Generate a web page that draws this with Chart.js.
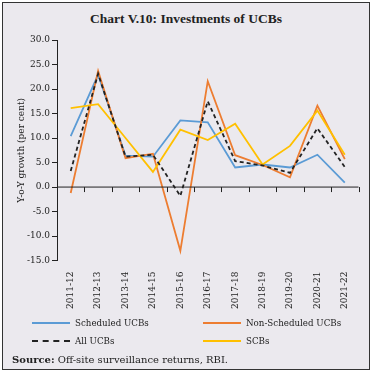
<!DOCTYPE html>
<html>
<head>
<meta charset="utf-8">
<script src="https://cdn.jsdelivr.net/npm/chart.js@4"></script>
<style>
    body { margin: 0; background: #fff; font-family: "DejaVu Serif", serif; }
    #frame { position: absolute; left: 2px; top: 2px; width: 366px; height: 366px; border: 1.5px solid #333; background: #ebe9ee; }
    #title { position: absolute; left: 3px; top: 11px; width: 366px; text-align: center; font-family: "Liberation Serif", serif; font-weight: bold; font-size: 13.5px; color: #222; }
    #wrap { position: absolute; left: 3px; top: 3px; width: 366px; height: 315px; }
    #legend .item { position: absolute; font-size: 8.7px; color: #222; white-space: nowrap; line-height: 12px; }
    #legend .swatch { display: inline-block; width: 38px; height: 0; vertical-align: middle; margin-right: 5px; }
    #source { position: absolute; left: 12px; top: 354px; font-size: 10px; color: #222; }
</style>
</head>
<body>
<div id="frame"></div>
<div id="title">Chart V.10: Investments of UCBs</div>
<div id="wrap"><canvas id="chart"></canvas></div>
<div id="legend"></div>
<div id="source"><b>Source:</b> Off-site surveillance returns, RBI.</div>
<script>
// categories and series (per cent)
const years = ['2011-12', '2012-13', '2013-14', '2014-15', '2015-16', '2016-17', '2017-18', '2018-19', '2019-20', '2020-21', '2021-22'];
const scheduledUCBs = [10.4, 22.9, 6.4, 6.2, 13.6, 13.2, 4.0, 4.6, 4.0, 6.6, 0.9];
const nonScheduledUCBs = [-1.2, 23.7, 5.9, 6.8, -13.0, 21.6, 6.5, 4.5, 2.0, 16.6, 5.7];
const allUCBs = [3.3, 23.1, 6.2, 6.6, -1.8, 17.5, 5.3, 4.4, 2.9, 12.0, 4.1];
const scbs = [16.1, 16.9, 10.0, 3.1, 11.7, 9.6, 12.9, 4.6, 8.4, 15.6, 6.6];
const yTicks = [-15, -10, -5, 0, 5, 10, 15, 20, 25, 30];

const axisColor = '#222';
const font = { family: 'DejaVu Serif', size: 9 };

// small tick marks hanging under the zero line, at category boundaries
const zeroTicks = {
    id: 'zeroTicks',
    afterDraw(chart) {
        const x = chart.scales.x, y = chart.scales.y;
        const y0 = y.getPixelForValue(0);
        const step = (x.right - x.left) / years.length;
        const ctx = chart.ctx;
        ctx.save();
        ctx.strokeStyle = axisColor;
        ctx.lineWidth = 1;
        ctx.beginPath();
        ctx.moveTo(x.left, y0);
        ctx.lineTo(x.right, y0);
        for (let i = 1; i <= years.length; i++) {
            const px = Math.round(x.left + step * i) + 0.5;
            ctx.moveTo(px, y0);
            ctx.lineTo(px, y0 + 5);
        }
        ctx.stroke();
        ctx.restore();
    }
};

const chart = new Chart(document.getElementById('chart'), {
    type: 'line',
    data: {
        labels: years,
        datasets: [
            { label: 'Scheduled UCBs', data: scheduledUCBs, borderColor: '#5b9bd5', order: 3 },
            { label: 'Non-Scheduled UCBs', data: nonScheduledUCBs, borderColor: '#ed7d31', order: 2 },
            { label: 'All UCBs', data: allUCBs, borderColor: '#222', borderDash: [4, 3], order: 0 },
            { label: 'SCBs', data: scbs, borderColor: '#ffc000', order: 1 }
        ]
    },
    options: {
        responsive: true,
        maintainAspectRatio: false,
        animation: false,
        layout: { padding: { top: 37, right: 10.5, left: 0, bottom: 6 } },
        elements: {
            line: { borderWidth: 1.8, tension: 0, fill: false },
            point: { radius: 0 }
        },
        plugins: { legend: { display: false }, tooltip: { enabled: false } },
        scales: {
            x: {
                offset: true,
                grid: { display: false },
                border: { display: false },
                ticks: { color: axisColor, font: font, maxRotation: 90, minRotation: 90, padding: 3, autoSkip: false }
            },
            y: {
                min: -15,
                max: 30,
                afterBuildTicks: s => { s.ticks = yTicks.map(v => ({ value: v })); },
                afterFit: s => { s.width = 54; },
                border: { display: true, color: axisColor, width: 1 },
                grid: {
                    drawOnChartArea: false,
                    drawTicks: true,
                    tickLength: 5,
                    tickColor: axisColor
                },
                ticks: { color: axisColor, font: font, padding: 2, callback: v => v.toFixed(1) },
                title: { display: true, text: 'Y-o-Y growth (per cent)', color: axisColor, font: font, padding: { top: 13, bottom: 0 } }
            }
        }
    },
    plugins: [zeroTicks]
});

// two-column legend built from the datasets
const legendPos = [[32, 316.5], [203, 316.5], [32, 334.5], [203, 334.5]];
const legend = document.getElementById('legend');
chart.data.datasets.forEach((ds, i) => {
    const item = document.createElement('div');
    item.className = 'item';
    item.style.left = legendPos[i][0] + 'px';
    item.style.top = legendPos[i][1] + 'px';
    const style = ds.borderDash ? 'dashed' : 'solid';
    item.innerHTML = `<span class="swatch" style="border-top: 2px ${style} ${ds.borderColor}"></span>${ds.label}`;
    legend.appendChild(item);
});
</script>
</body>
</html>
